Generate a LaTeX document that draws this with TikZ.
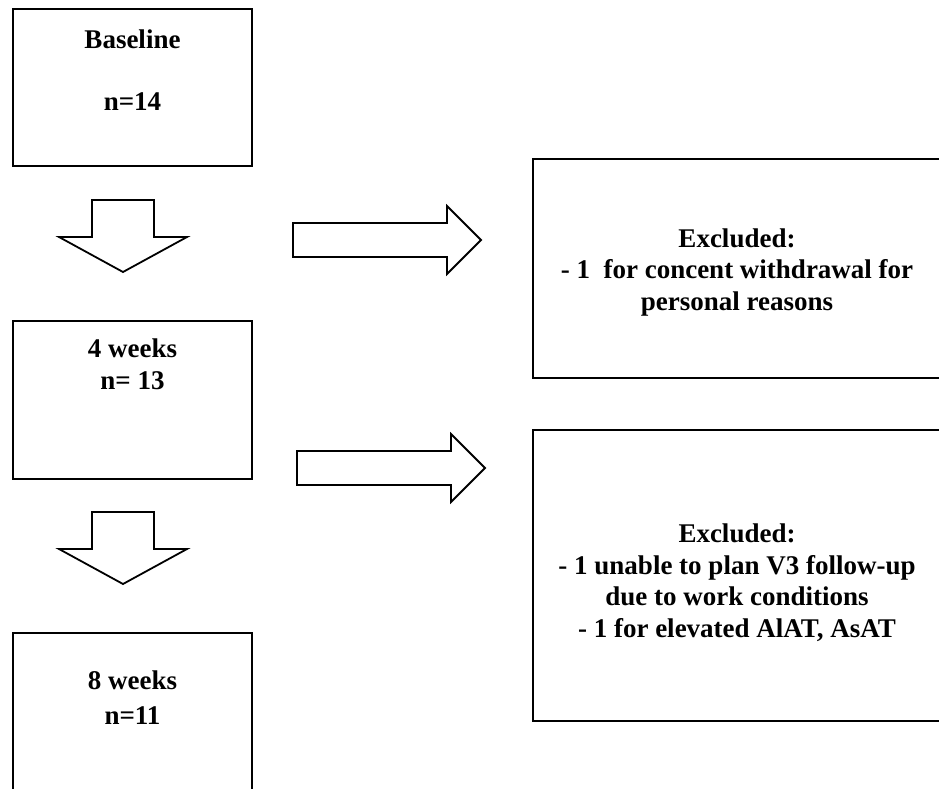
\documentclass[tikz,border=0pt]{standalone}
\usepackage{fontspec}
\setmainfont{Liberation Serif}
\usetikzlibrary{positioning}
\tikzstyle{box}=[draw,rectangle,line width=2.4pt,inner sep=0pt]
\tikzstyle{every node}=[font=\bfseries\fontsize{27}{31.5}\selectfont]
\tikzstyle{txt}=[anchor=base,align=center,inner sep=0pt]
\tikzstyle{fat}=[draw,line width=1.8pt,line join=miter,fill=white]
\newcommand{\blockdown}[2]{\draw[fat] ({#1-31},#2) -- ++(62,0) -- ++(0,37) -- ++(33,0) -- ++(-64,35) -- ++(-64,-35) -- ++(33,0) -- cycle;}
\newcommand{\blockright}[2]{\draw[fat] (#1,{#2-17}) -- ++(154,0) -- ++(0,-17) -- ++(34,34) -- ++(-34,34) -- ++(0,-17) -- ++(-154,0) -- cycle;}

\begin{document}
\begin{tikzpicture}[x=1pt,y=-1pt]
    \useasboundingbox (0,0) rectangle (939,789);
    \clip (0,0) rectangle (939,789);
    % left column
    \node[box, minimum width=239, minimum height=157] (base) at (132.5,87.5) {};
    \node[txt] (baset) at (132.5,49) {Baseline};
    \node[txt] (basen) at (132.5,111) {n=14};
    \node[box, minimum width=239, minimum height=158] (wk4) at (132.5,400) {};
    \node[txt] (wk4t) at (132.5,389) {4 weeks\\n= 13};
    \node[box, minimum width=239, minimum height=177] (wk8) at (132.5,721.5) {};
    \node[txt] (wk8t) at (132.5,689) {8 weeks};
    \node[txt] (wk8n) at (132.5,724) {n=11};
    % right column
    \node[box, minimum width=408, minimum height=219] (exA) at (737,268.5) {};
    \node[txt] (exAt) at (737,310) {Excluded:\\- 1~ for concent withdrawal for\\personal reasons};
    \node[box, minimum width=408, minimum height=291] (exB) at (737,575.5) {};
    \node[txt] (exBt) at (737,637) {Excluded:\\- 1 unable to plan V3 follow-up\\due to work conditions\\- 1 for elevated AlAT, AsAT};
    % block arrows
    \blockdown{123}{200}
    \blockdown{123}{512}
    \blockright{293}{240}
    \blockright{297}{468}
\end{tikzpicture}
\end{document}
